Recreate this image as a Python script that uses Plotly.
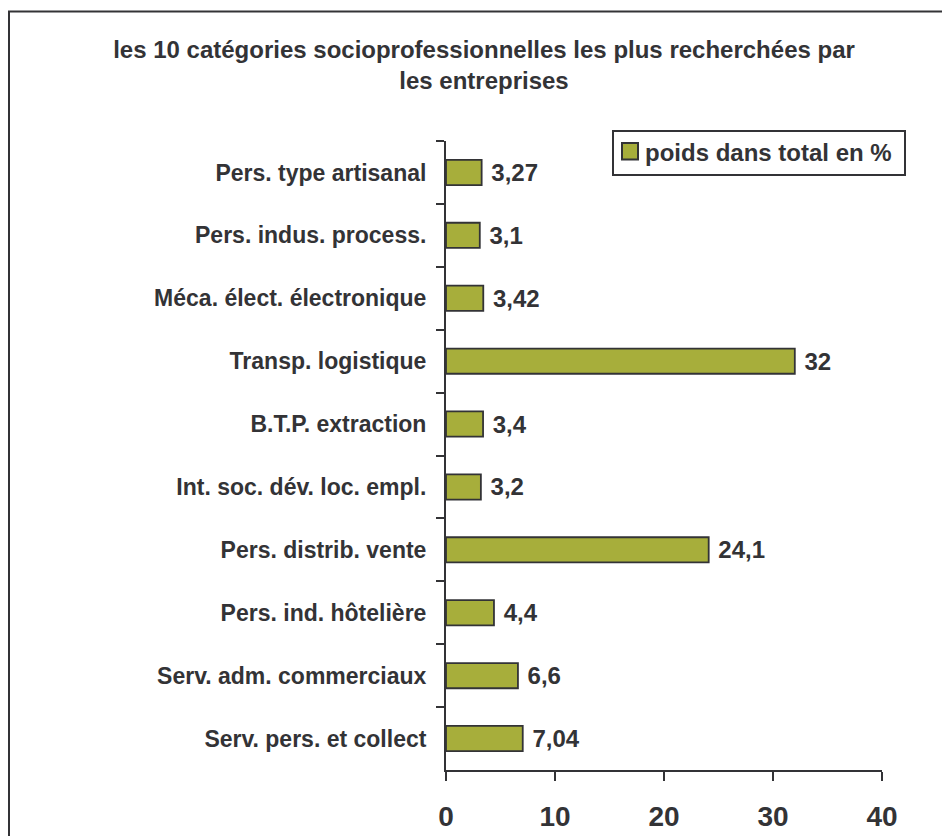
import plotly.graph_objects as go

categories = [
    "Pers. type artisanal",
    "Pers. indus. process.",
    "Méca. élect. électronique",
    "Transp. logistique",
    "B.T.P. extraction",
    "Int. soc. dév. loc. empl.",
    "Pers. distrib. vente",
    "Pers. ind. hôtelière",
    "Serv. adm. commerciaux",
    "Serv. pers. et collect",
]
values = [3.27, 3.1, 3.42, 32, 3.4, 3.2, 24.1, 4.4, 6.6, 7.04]
series_name = "poids dans total en %"
title_text = "les 10 catégories socioprofessionnelles les plus recherchées par<br>les entreprises"
x_ticks = [0, 10, 20, 30, 40]

labels = ["&nbsp;" + f"{v:g}".replace(".", ",") for v in values]

# the page body adds an 8px offset; work in figure pixels = page pixels - 8
OFF = 8
W, H = 950, 836
L, T = 446 - OFF, 141 - OFF
Rr, Bb = 882 - OFF, 770 - OFF
pw, ph = Rr - L, Bb - T

def px_x(x):
    return (x - L) / pw

def px_y(y):
    return (Bb - y) / ph

DARK = "#333336"
FILL = "#A7AE3B"
FONT = "Liberation Sans, Arial, sans-serif"

fig = go.Figure()
fig.add_trace(go.Bar(
    x=values,
    y=categories,
    orientation="h",
    name=series_name,
    marker=dict(color=FILL, line=dict(color=DARK, width=1.8)),
    text=labels,
    textposition="outside",
    constraintext="none",
    textfont=dict(family=FONT, size=24, color=DARK, weight="bold"),
    cliponaxis=False,
    showlegend=False,
))

# legend box (figure pixels)
lg_x0, lg_x1, lg_y0, lg_y1 = 613 - OFF, 905 - OFF, 131 - OFF, 175 - OFF
sq_x0, sq_x1, sq_y0, sq_y1 = 622 - OFF, 638 - OFF, 143 - OFF, 159.5 - OFF

fig.update_layout(
    width=W, height=H,
    margin=dict(l=L, r=W - Rr, t=T, b=H - Bb),
    paper_bgcolor="white",
    plot_bgcolor="white",
    bargap=0.6,
    showlegend=False,
    font=dict(family=FONT, color=DARK),
    title=dict(
        text=title_text,
        x=476 / W, xref="container", xanchor="center",
        y=1 - 50 / H, yref="container", yanchor="top",
        font=dict(family=FONT, size=24, color=DARK, weight="bold"),
    ),
    xaxis=dict(
        range=[0, 40],
        tickvals=x_ticks,
        ticktext=[str(t) for t in x_ticks],
        showgrid=False, zeroline=False, automargin=False,
        showline=True, linecolor=DARK, linewidth=2,
        ticks="outside", ticklen=9, tickwidth=2, tickcolor=DARK,
        tickfont=dict(family=FONT, size=28, color=DARK, weight="bold"),
        ticklabelstandoff=11,
    ),
    yaxis=dict(
        type="category",
        categoryorder="array",
        categoryarray=categories,
        autorange="reversed",
        showgrid=False, zeroline=False, automargin=False,
        showline=True, linecolor=DARK, linewidth=2,
        ticks="outside", ticklen=8, tickwidth=2, tickcolor=DARK,
        tickson="boundaries",
        tickfont=dict(family=FONT, size=23, color=DARK, weight="bold"),
        ticklabelstandoff=13,
    ),
    shapes=[
        dict(type="rect", xref="paper", yref="paper",
             x0=px_x(1), x1=px_x(990), y0=px_y(900), y1=px_y(11 - OFF + 0.5),
             line=dict(color=DARK, width=2), fillcolor="rgba(0,0,0,0)", layer="below"),
        dict(type="rect", xref="paper", yref="paper",
             x0=px_x(lg_x0), x1=px_x(lg_x1), y0=px_y(lg_y1), y1=px_y(lg_y0),
             line=dict(color=DARK, width=2), fillcolor="white"),
        dict(type="rect", xref="paper", yref="paper",
             x0=px_x(sq_x0), x1=px_x(sq_x1), y0=px_y(sq_y1), y1=px_y(sq_y0),
             line=dict(color=DARK, width=2), fillcolor=FILL),
    ],
    annotations=[
        dict(text=series_name, xref="paper", yref="paper",
             x=px_x(643 - OFF), y=px_y(152 - OFF), xanchor="left", yanchor="middle",
             showarrow=False,
             font=dict(family=FONT, size=24, color=DARK, weight="bold")),
    ],
)

fig.write_html("out.html")
